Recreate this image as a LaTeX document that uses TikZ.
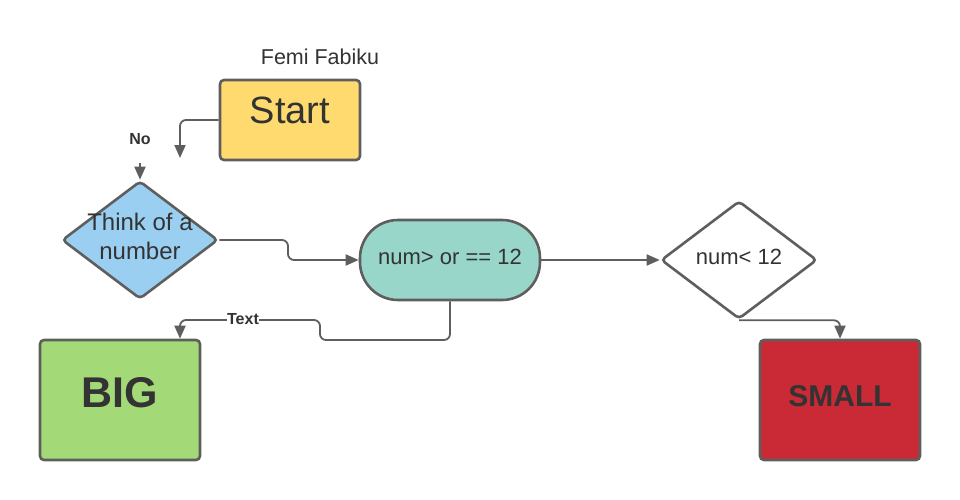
\documentclass[tikz,border=0pt]{standalone}
\usepackage{fontspec}
\setmainfont{Liberation Sans}
\usetikzlibrary{shapes.geometric,arrows.meta}
\definecolor{lc}{HTML}{5E5E5E}
\definecolor{tc}{HTML}{333333}
\definecolor{cyel}{HTML}{FFDA6E}
\definecolor{cblue}{HTML}{9BCFF2}
\definecolor{cteal}{HTML}{99D6CA}
\definecolor{cgreen}{HTML}{A3D977}
\definecolor{cred}{HTML}{C92A35}
\tikzset{
  box/.style={draw=lc, line width=2.6pt, rounded corners=4pt, inner sep=0pt},
  dia/.style={diamond, draw=lc, line width=2.6pt, rounded corners=4pt, inner sep=0pt, minimum width=156pt, minimum height=118pt},
  conn/.style={draw=lc, line width=1.8pt, rounded corners=6pt, -{Triangle[length=13pt,width=11pt]}},
  lbl/.style={text=tc, inner sep=1pt},
}
\begin{document}
\begin{tikzpicture}[x=1pt,y=-1pt]
\useasboundingbox (0,0) rectangle (960,500);
% title
\node[lbl, font=\fontsize{21.5}{26}\selectfont] (title) at (320,57) {Femi Fabiku};
% shapes
\node[box, fill=cyel, minimum width=140pt, minimum height=80pt] (start) at (290,120) {};
\node[dia, fill=cblue] (d1) at (140,240) {};
\node[box, fill=cteal, rounded corners=38pt, minimum width=180pt, minimum height=80pt] (term) at (450,260) {};
\node[dia, fill=white] (d2) at (739,260) {};
\node[box, fill=cgreen, minimum width=160pt, minimum height=120pt] (big) at (120,400) {};
\node[box, fill=cred, minimum width=160pt, minimum height=120pt] (small) at (840,400) {};
% texts
\node[lbl, font=\fontsize{38}{44}\selectfont] (startt) at (290,110) {Start};
\node[lbl, align=center, font=\fontsize{24}{29}\selectfont] (d1t) at (140,236) {Think of a\\number};
\node[lbl, font=\fontsize{22}{26}\selectfont] (termt) at (450,257) {num> or == 12};
\node[lbl, font=\fontsize{22}{26}\selectfont] (d2t) at (739,257) {num< 12};
\node[lbl, font=\bfseries\fontsize{43}{50}\selectfont] (bigt) at (120,393) {BIG};
\node[lbl, font=\bfseries\fontsize{30}{36}\selectfont] (smallt) at (840,396) {SMALL};
% free ends and helpers
\coordinate (noend) at (180,158);
\coordinate (nostart) at (140,163);
\coordinate (bigin) at (180,0);
% connectors
\draw[conn] (start.west) -| (noend);
\node[lbl, font=\bfseries\fontsize{16}{19}\selectfont] (no) at (140,139) {No};
\draw[conn] (nostart) -- (d1.north);
\draw[conn] (d1.east) -- (288,240) -- (288,260) -- (term.west);
\draw[conn] (term.east) -- (d2.west);
\draw[conn] (d2.south) -| (small.north);
\draw[conn] (term.south) -- (450,340) -- (320,340) -- (320,320) -- (180,320) -- (big.north -| bigin);
\node[lbl, fill=white, inner sep=0.5pt, font=\bfseries\fontsize{16}{19}\selectfont] (txt) at (243,319) {Text};
\end{tikzpicture}
\end{document}
